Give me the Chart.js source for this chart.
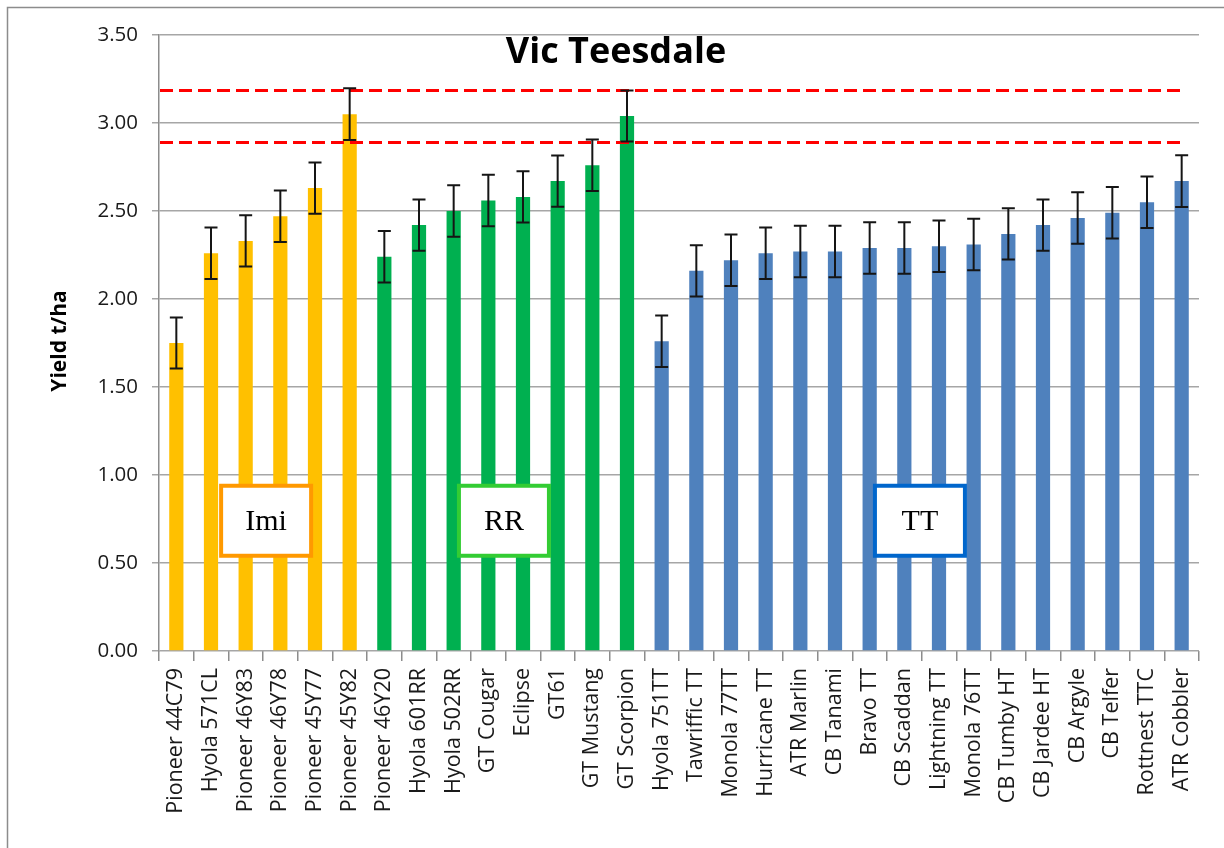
<!DOCTYPE html>
<html>
<head>
<meta charset="utf-8">
<script src="https://cdn.jsdelivr.net/npm/chart.js@4/dist/chart.umd.min.js"></script>
<style>
html,body{margin:0;padding:0;background:#fff;}
#wrap{width:1224px;height:848px;position:relative;}
</style>
</head>
<body>
<div id="wrap"><canvas id="c" width="1224" height="848"></canvas></div>
<script>
const chartTitle = 'Vic Teesdale';
const yAxisTitle = 'Yield t/ha';
const categories = ['Pioneer 44C79','Hyola 571CL','Pioneer 46Y83','Pioneer 46Y78','Pioneer 45Y77','Pioneer 45Y82',
  'Pioneer 46Y20','Hyola 601RR','Hyola 502RR','GT Cougar','Eclipse','GT61','GT Mustang','GT Scorpion',
  'Hyola 751TT','Tawriffic TT','Monola 77TT','Hurricane TT','ATR Marlin','CB Tanami','Bravo TT','CB Scaddan',
  'Lightning TT','Monola 76TT','CB Tumby HT','CB Jardee HT','CB Argyle','CB Telfer','Rottnest TTC','ATR Cobbler'];
const groups = ['Imi','Imi','Imi','Imi','Imi','Imi',
  'RR','RR','RR','RR','RR','RR','RR','RR',
  'TT','TT','TT','TT','TT','TT','TT','TT','TT','TT','TT','TT','TT','TT','TT','TT'];
const yields = [1.75,2.26,2.33,2.47,2.63,3.05,
  2.24,2.42,2.50,2.56,2.58,2.67,2.76,3.04,
  1.76,2.16,2.22,2.26,2.27,2.27,2.29,2.29,2.30,2.31,2.37,2.42,2.46,2.49,2.55,2.67];
const errors = [0.145,0.146,0.146,0.146,0.146,0.147,
  0.146,0.146,0.146,0.146,0.146,0.146,0.146,0.145,
  0.146,0.146,0.146,0.146,0.146,0.146,0.146,0.146,0.146,0.146,0.146,0.146,0.146,0.146,0.146,0.147];
const refLines = [3.19, 2.89];
const yTicks = [0.00,0.50,1.00,1.50,2.00,2.50,3.00,3.50];
const groupNames = ['Imi','RR','TT'];

const groupColors = {Imi:'#FFC000', RR:'#00B050', TT:'#4F81BD'};
const boxStyle = {
  Imi:{border:'#FF9900', at:2.59},
  RR:{border:'#33CC33', at:9.45},
  TT:{border:'#0066CC', at:21.45}
};
const boxValue = 0.74;

const overlay = {
  id:'overlay',
  beforeDraw(chart){
    const ctx = chart.ctx;
    ctx.save();
    ctx.fillStyle = '#fff';
    ctx.fillRect(0,0,chart.width,chart.height);
    ctx.strokeStyle = '#8c8c8c';
    ctx.lineWidth = 1.5;
    ctx.strokeRect(7.5,7.5,chart.width+20,chart.height+20);
    ctx.restore();
  },
  afterDatasetsDraw(chart){
    const ctx = chart.ctx;
    const xs = chart.scales.x, ys = chart.scales.y;
    const area = chart.chartArea;
    ctx.save();
    ctx.strokeStyle = '#FF0000';
    ctx.lineWidth = 3;
    ctx.setLineDash([13,6]);
    const xEnd = xs.getPixelForValue(categories.length-1);
    refLines.forEach(v=>{
      const y = Math.round(ys.getPixelForValue(v))+0.5;
      ctx.beginPath(); ctx.moveTo(area.left+1,y); ctx.lineTo(xEnd,y); ctx.stroke();
    });
    ctx.setLineDash([]);
    ctx.strokeStyle = '#151515';
    ctx.lineWidth = 2;
    yields.forEach((v,i)=>{
      const x = xs.getPixelForValue(i);
      const yt = ys.getPixelForValue(v+errors[i]);
      const yb = ys.getPixelForValue(v-errors[i]);
      ctx.beginPath();
      ctx.moveTo(x,yt); ctx.lineTo(x,yb);
      ctx.moveTo(x-6.5,yt); ctx.lineTo(x+6.5,yt);
      ctx.moveTo(x-6.5,yb); ctx.lineTo(x+6.5,yb);
      ctx.stroke();
    });
    groupNames.forEach(g=>{
      const s = boxStyle[g];
      const step = xs.getPixelForValue(1)-xs.getPixelForValue(0);
      const cx = xs.getPixelForValue(0) + s.at*step;
      const cy = ys.getPixelForValue(boxValue);
      const w = 90, h = 70;
      ctx.fillStyle = '#fff';
      ctx.fillRect(cx-w/2,cy-h/2,w,h);
      ctx.strokeStyle = s.border;
      ctx.lineWidth = 4;
      ctx.strokeRect(cx-w/2,cy-h/2,w,h);
      ctx.fillStyle = '#000';
      ctx.font = '30px "Liberation Serif", "DejaVu Serif", serif';
      ctx.textAlign = 'center';
      ctx.textBaseline = 'middle';
      ctx.fillText(g,cx,cy+1);
    });
    ctx.fillStyle = '#000';
    ctx.font = 'bold 36px "Open Sans", "Liberation Sans", sans-serif';
    ctx.textAlign = 'center';
    ctx.textBaseline = 'middle';
    ctx.fillText(chartTitle, 616, 53);
    ctx.save();
    ctx.translate(60, 341);
    ctx.rotate(-Math.PI/2);
    ctx.font = 'bold 21px "Open Sans", "Liberation Sans", sans-serif';
    ctx.fillText(yAxisTitle, 0, 0);
    ctx.restore();
    ctx.restore();
  }
};

new Chart(document.getElementById('c'), {
  type:'bar',
  data:{
    labels:categories,
    datasets:[{
      data:yields,
      backgroundColor:groups.map(g=>groupColors[g]),
      borderWidth:0,
      categoryPercentage:1,
      barPercentage:0.41
    }]
  },
  options:{
    responsive:false,
    animation:false,
    devicePixelRatio:1,
    layout:{padding:{top:35,right:25,left:0,bottom:0}},
    plugins:{legend:{display:false},tooltip:{enabled:false},title:{display:false}},
    scales:{
      x:{
        grid:{display:true,drawOnChartArea:false,drawTicks:true,tickLength:10,color:'#8c8c8c',lineWidth:1.5,offset:true},
        border:{display:false},
        ticks:{maxRotation:90,minRotation:90,autoSkip:false,padding:7,color:'#1a1a1a',
          font:{family:'"Open Sans", "Liberation Sans", sans-serif',size:21.5}},
        afterFit(s){ s.height = 848-651; }
      },
      y:{
        min:0,max:3.5,
        afterBuildTicks(s){ s.ticks = yTicks.map(v=>({value:v})); },
        grid:{color:'#a6a6a6',lineWidth:1.5,tickLength:7,drawTicks:true},
        border:{display:true,color:'#8c8c8c',width:1.5},
        ticks:{padding:14,color:'#1a1a1a',callback:v=>Number(v).toFixed(2),
          font:{family:'"Open Sans", "Liberation Sans", sans-serif',size:20.5}},
        afterFit(s){ s.width = 159; }
      }
    }
  },
  plugins:[overlay]
});
</script>
</body>
</html>
